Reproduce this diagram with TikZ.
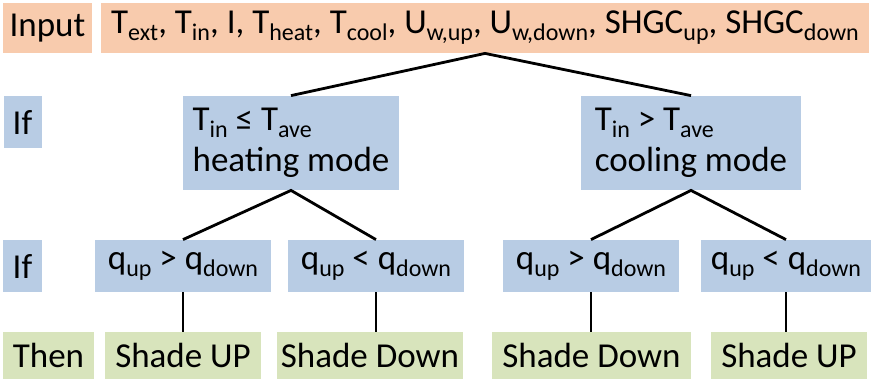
\documentclass[tikz,border=0pt]{standalone}
\usepackage{fontspec}
\setmainfont{Carlito}
\definecolor{inorange}{HTML}{F8CBAD}
\definecolor{ifblue}{HTML}{B8CCE4}
\definecolor{thengreen}{HTML}{D8E4BC}
\newcommand\sbs[1]{\raisebox{-0.2em}{\fontsize{12}{12}\selectfont #1}}
\tikzset{
    box/.style={inner sep=0pt, align=left, font=\fontsize{17.5}{20.5}\selectfont},
    inbox/.style={box, fill=inorange, minimum height=25pt},
    ifbox/.style={box, fill=ifblue, minimum height=26pt},
    thenbox/.style={box, fill=thengreen, minimum height=23.5pt},
    link/.style={line width=1.4pt}
}
\begin{document}
\begin{tikzpicture}[x=0.5pt, y=-0.5pt]
    \useasboundingbox (0,0) rectangle (874,381);
    % Input row
    \node[inbox, minimum width=44.5pt] (inlabel) at (47.5,28) {Input};
    \node[inbox, minimum width=384pt]  (inputs)  at (485,28)
        {T\sbs{ext}, T\sbs{in}, I, T\sbs{heat}, T\sbs{cool}, U\sbs{w,up}, U\sbs{w,down}, SHGC\sbs{up}, SHGC\sbs{down}};
    % Mode row
    \node[ifbox, minimum width=19pt] (iflabel1) at (22.5,122) {If};
    \node[ifbox, minimum width=108pt, minimum height=47pt] (heat) at (291,143)
        {T\sbs{in} ≤ T\sbs{ave}\\heating mode};
    \node[ifbox, minimum width=110pt, minimum height=47pt] (cool) at (691,143)
        {T\sbs{in} > T\sbs{ave}\\cooling mode};
    % Flux row
    \node[ifbox, minimum width=19.5pt] (iflabel2) at (22.5,266) {If};
    \node[ifbox, minimum width=88pt] (qa) at (183,266) {q\sbs{up} > q\sbs{down}};
    \node[ifbox, minimum width=88pt] (qb) at (376,266) {q\sbs{up} < q\sbs{down}};
    \node[ifbox, minimum width=88pt] (qc) at (591,266) {q\sbs{up} > q\sbs{down}};
    \node[ifbox, minimum width=85pt] (qd) at (786,266) {q\sbs{up} < q\sbs{down}};
    % Action row
    \node[thenbox, minimum width=45.5pt] (thenlabel) at (48.5,355.5) {Then};
    \node[thenbox, minimum width=78pt]   (sa) at (183,355.5)   {Shade UP};
    \node[thenbox, minimum width=93pt]   (sb) at (370,355.5)   {Shade Down};
    \node[thenbox, minimum width=99.5pt] (sc) at (591.5,355.5) {Shade Down};
    \node[thenbox, minimum width=78pt]   (sd) at (789,355.5)   {Shade UP};
    % Links
    \draw[link] (heat.north) -- (inputs.south) -- (cool.north);
    \draw[link] (qa.north) -- (heat.south) -- (qb.north);
    \draw[link] (qc.north) -- (cool.south) -- (qd.north);
    \draw[link] (qa.south) -- (qa.south |- sa.north);
    \draw[link] (qb.south) -- (qb.south |- sb.north);
    \draw[link] (qc.south) -- (qc.south |- sc.north);
    \draw[link] (qd.south) -- (qd.south |- sd.north);
\end{tikzpicture}
\end{document}
